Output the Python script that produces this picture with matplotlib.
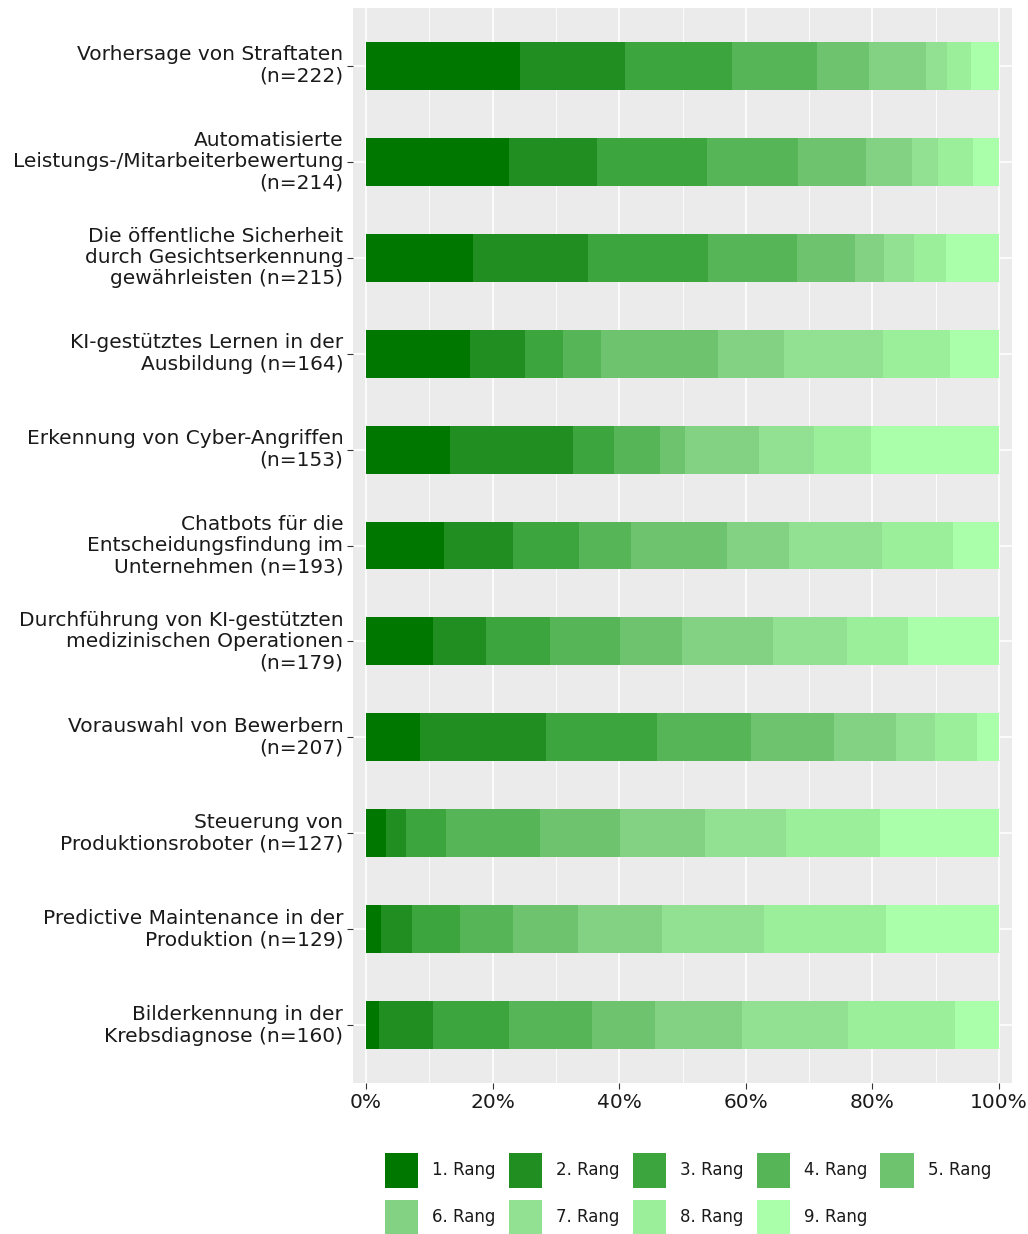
import numpy as np
import matplotlib
matplotlib.use("Agg")
import matplotlib.pyplot as plt
from matplotlib.patches import Patch

# Categories (top to bottom)
labels = [
    "Vorhersage von Straftaten\n(n=222)",
    "Automatisierte\nLeistungs-/Mitarbeiterbewertung\n(n=214)",
    "Die öffentliche Sicherheit\ndurch Gesichtserkennung\ngewährleisten (n=215)",
    "KI-gestütztes Lernen in der\nAusbildung (n=164)",
    "Erkennung von Cyber-Angriffen\n(n=153)",
    "Chatbots für die\nEntscheidungsfindung im\nUnternehmen (n=193)",
    "Durchführung von KI-gestützten\nmedizinischen Operationen\n(n=179)",
    "Vorauswahl von Bewerbern\n(n=207)",
    "Steuerung von\nProduktionsroboter (n=127)",
    "Predictive Maintenance in der\nProduktion (n=129)",
    "Bilderkennung in der\nKrebsdiagnose (n=160)",
]

# share (%) per rank, same order as labels
rang_1 = [24.3, 22.6, 16.9, 16.5, 13.2, 12.4, 10.6, 8.6, 3.1, 2.4, 2.0]
rang_2 = [16.6, 13.9, 18.1, 8.6, 19.5, 10.8, 8.4, 19.9, 3.3, 4.8, 8.6]
rang_3 = [16.9, 17.3, 19.1, 6.1, 6.5, 10.5, 10.0, 17.4, 6.2, 7.7, 12.0]
rang_4 = [13.4, 14.5, 14.0, 6.0, 7.2, 8.2, 11.2, 14.9, 14.9, 8.3, 13.1]
rang_5 = [8.3, 10.7, 9.1, 18.4, 4.0, 15.2, 9.7, 13.2, 12.7, 10.3, 10.0]
rang_6 = [9.0, 7.2, 4.7, 10.5, 11.7, 9.7, 14.4, 9.7, 13.4, 13.2, 13.7]
rang_7 = [3.3, 4.2, 4.7, 15.6, 8.7, 14.7, 11.7, 6.2, 12.7, 16.1, 16.8]
rang_8 = [3.7, 5.5, 5.0, 10.5, 8.9, 11.3, 9.7, 6.7, 14.9, 19.4, 16.9]
rang_9 = [4.5, 4.1, 8.4, 7.8, 20.3, 7.2, 14.3, 3.4, 18.8, 17.8, 6.9]

rang_names = ["1. Rang", "2. Rang", "3. Rang", "4. Rang", "5. Rang",
              "6. Rang", "7. Rang", "8. Rang", "9. Rang"]
colors = ["#007800", "#208e20", "#3da53d", "#56b556", "#6ec46e",
          "#83d283", "#92e092", "#9bef9b", "#aaffaa"]

series = [rang_1, rang_2, rang_3, rang_4, rang_5, rang_6, rang_7, rang_8, rang_9]

fig = plt.figure(figsize=(10.28, 12.34), dpi=100)
ax = fig.add_axes([353/1028, 1 - 1083/1234, (1012 - 353)/1028, (1083 - 8)/1234])
ax.set_facecolor("#ebebeb")

y = np.arange(len(labels))[::-1] + 1
left = np.zeros(len(labels))
for vals, col in zip(series, colors):
    ax.barh(y, vals, left=left, height=0.5, color=col, linewidth=0, zorder=3)
    left += np.array(vals)

# ggplot-like grid
ax.set_xlim(-2.05, 102.05)
ax.set_ylim(0.4, len(labels) + 0.6)
ax.set_xticks([0, 20, 40, 60, 80, 100])
ax.set_xticks([10, 30, 50, 70, 90], minor=True)
ax.set_xticklabels(["0%", "20%", "40%", "60%", "80%", "100%"])
ax.set_yticks(y)
ax.set_yticklabels(labels, va="center", ha="right", multialignment="right",
                   linespacing=1.15)
ax.grid(which="major", color="white", linewidth=1.2, zorder=1)
ax.grid(which="minor", axis="x", color="white", linewidth=0.6, zorder=1)
ax.tick_params(axis="both", which="major", length=4, color="#333333",
               labelsize=14.5, labelcolor="#1a1a1a", pad=3)
ax.tick_params(axis="both", which="minor", length=0)
for s in ax.spines.values():
    s.set_visible(False)

# legend, filled row by row
order = [0, 5, 1, 6, 2, 7, 3, 8, 4]
handles = [Patch(facecolor=colors[i], edgecolor="none") for i in order]
names = [rang_names[i] for i in order]
fig.legend(handles, names, ncol=5, loc="center",
           bbox_to_anchor=(688/1028, 1 - 1194/1234), frameon=False,
           fontsize=12, handlelength=2.0, handleheight=2.85,
           handletextpad=0.84, columnspacing=0.78, labelspacing=0.72,
           labelcolor="#1a1a1a")

fig.savefig("out.png", dpi=100)
